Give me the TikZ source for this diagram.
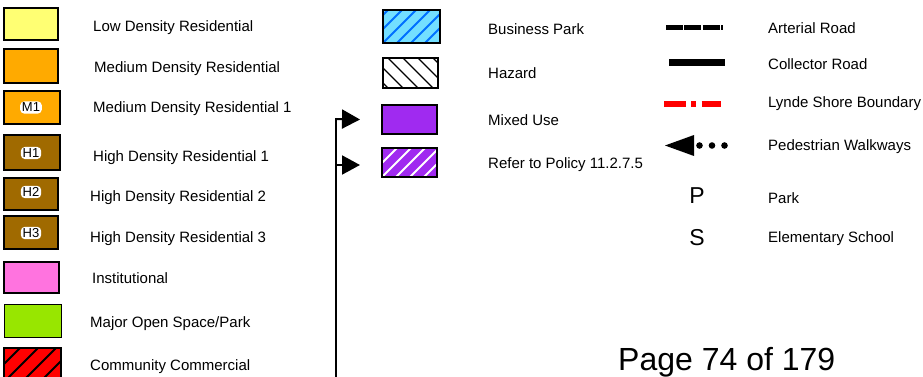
\documentclass[tikz,border=0pt]{standalone}
\usepackage{fontspec}
\setmainfont{Liberation Sans}
\usetikzlibrary{arrows.meta,calc}
\definecolor{lowyel}{HTML}{FFFF73}
\definecolor{medor}{HTML}{FFAA00}
\definecolor{hibrown}{HTML}{A06A00}
\definecolor{instpink}{HTML}{FF73DF}
\definecolor{parkgreen}{HTML}{98E600}
\definecolor{commred}{HTML}{FF0000}
\definecolor{bpblue}{HTML}{73DFFF}
\definecolor{bpline}{HTML}{0070FF}
\definecolor{mixpurple}{HTML}{A02AF0}
\begin{document}
\begin{tikzpicture}[x=1pt,y=-1pt,
  legbox/.style 2 args={draw=black,line width=2pt,inner sep=0pt,outer sep=0pt,minimum width=#1pt,minimum height=#2pt},
  lbl/.style={anchor=base west,inner sep=0pt,font=\fontsize{15pt}{18pt}\selectfont},
  sym/.style={anchor=base,inner sep=0pt,font=\fontsize{23pt}{27pt}\selectfont},
  tag/.style={fill=white,rounded corners=4pt,inner xsep=1.8pt,inner ysep=1.6pt,text=black,font=\fontsize{13pt}{15pt}\selectfont},
  hatchne/.style n args={3}{path picture={\foreach \i in {0,...,14}{\pgfmathsetmacro\k{-70+\i*#3}\draw[#1,line width=#2] ([xshift=\k pt]path picture bounding box.south west) -- ++(80pt,80pt);}}},
  hatchnw/.style n args={3}{path picture={\foreach \i in {0,...,14}{\pgfmathsetmacro\k{-70+\i*#3}\draw[#1,line width=#2] ([xshift=\k pt]path picture bounding box.north west) -- ++(80pt,-80pt);}}},
  conn/.style={line width=2pt},
  tipped/.style={line width=2pt,-{Triangle[length=18pt,width=19pt]}}
]
\useasboundingbox (0,0) rectangle (923,377);

% left column boxes
\node[legbox={54}{32},fill=lowyel,line width=1.5pt] (b1) at (31,24) {};
\node[legbox={54}{34},fill=medor] (b2) at (31,66) {};
\node[legbox={56}{33},fill=medor] (b3) at (32,107.5) {};
\node[legbox={56}{35},fill=hibrown] (b4) at (32,152.5) {};
\node[legbox={54}{32},fill=hibrown] (b5) at (31,194) {};
\node[legbox={54}{33},fill=hibrown] (b6) at (31,232.5) {};
\node[legbox={55}{31},fill=instpink] (b7) at (31.5,277.5) {};
\node[legbox={57}{33},fill=parkgreen,line width=1pt] (b8) at (32.5,320.5) {};
\node[legbox={57}{32},fill=commred,hatchne={black}{2pt}{18}] (b9) at (32.5,364) {};

% haloed tags
\node[tag] (t3) at ($(b3)+(-1,0)$) {M1};
\node[tag] (t4) at ($(b4)+(-1,0.5)$) {H1};
\node[tag] (t5) at ($(b5)+(0,-2)$) {H2};
\node[tag] (t6) at ($(b6)+(0,0.5)$) {H3};

% left labels
\node[lbl] (l1) at (93,32) {Low Density Residential};
\node[lbl] (l2) at (94,73) {Medium Density Residential};
\node[lbl] (l3) at (93,113) {Medium Density Residential 1};
\node[lbl] (l4) at (93,161) {High Density Residential 1};
\node[lbl] (l5) at (90,201) {High Density Residential 2};
\node[lbl] (l6) at (90,242) {High Density Residential 3};
\node[lbl] (l7) at (92,283) {Institutional};
\node[lbl] (l8) at (90,327) {Major Open Space/Park};
\node[lbl] (l9) at (90,370) {Community Commercial};

% middle column boxes
\node[legbox={57}{33},fill=bpblue,hatchne={bpline}{2pt}{14}] (m1) at (411.5,26.5) {};
\node[legbox={55}{30},fill=white,line width=1.2pt,hatchnw={black}{1.4pt}{15}] (m2) at (410.5,73) {};
\node[legbox={55}{29},fill=mixpurple] (m3) at (409.5,119.5) {};
\node[legbox={55}{29},fill=mixpurple,hatchne={white}{2pt}{14}] (m4) at (409.5,162.5) {};

\node[lbl] (ml1) at (488,35) {Business Park};
\node[lbl] (ml2) at (488,79) {Hazard};
\node[lbl] (ml3) at (488,125) {Mixed Use};
\node[lbl] (ml4) at (488,168) {Refer to Policy 11.2.7.5};

% connector with arrows
\coordinate (foot) at (336,385);
\coordinate (j2) at (336,165);
\draw[conn] (foot) -- (336,118);
\draw[tipped] (336,119) -- ([xshift=-22pt]m3.west);
\draw[tipped] (j2) -- ($(m4.west)+(-22,2.5)$);

% right column symbols
\coordinate (ar1) at (666,28); \coordinate (ar2) at (723,28);
\draw[line width=5pt,dash pattern=on 16.7pt off 1.7pt] (ar1) -- (ar2);
\coordinate (co1) at (669,63); \coordinate (co2) at (725,63);
\draw[line width=7pt] (co1) -- (co2);
\coordinate (ly1) at (664,104); \coordinate (ly2) at (721,104);
\draw[line width=6.5pt,red,dash pattern=on 21.7pt off 5.3pt on 5pt off 5.7pt on 19.3pt off 20pt] (ly1) -- (ly2);
\fill (665,145.5) -- (694,135) -- (694,156) -- cycle;
\foreach \x in {699.5,712,724.5} \fill (\x,145.5) circle (3.3pt);

\node[sym] (p) at (697,203) {P};
\node[sym] (s) at (697,245) {S};

\node[lbl] (rl1) at (768,34) {Arterial Road};
\node[lbl] (rl2) at (768,70) {Collector Road};
\node[lbl] (rl3) at (768,108) {Lynde Shore Boundary};
\node[lbl] (rl4) at (768,150) {Pedestrian Walkways};
\node[lbl] (rl5) at (768,203) {Park};
\node[lbl] (rl6) at (768,242) {Elementary School};

\node[anchor=base west,inner sep=0pt,font=\fontsize{32pt}{38pt}\selectfont] (page) at (618,370) {Page 74 of 179};
\end{tikzpicture}
\end{document}
